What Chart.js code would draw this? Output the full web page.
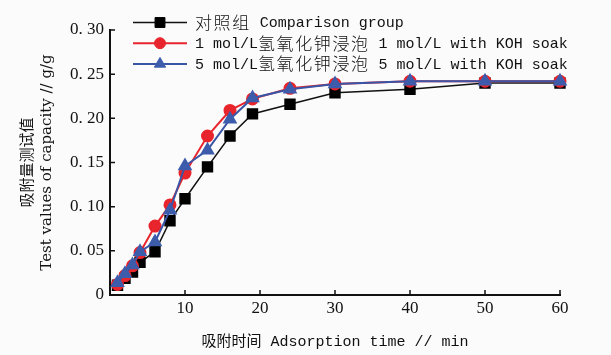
<!DOCTYPE html>
<html>
<head>
<meta charset="utf-8">
<script src="https://cdn.jsdelivr.net/npm/chart.js@4.4.1/dist/chart.umd.min.js"></script>
<style>
  html, body { margin: 0; padding: 0; background: #fbfbfb; }
  #wrap { width: 611px; height: 355px; }
</style>
</head>
<body>
<div id="wrap"><canvas id="chart" width="611" height="355"></canvas></div>
<script>
// adsorption time, min
const times = [1, 2, 3, 4, 6, 8, 10, 13, 16, 19, 24, 30, 40, 50, 60];

// adsorption capacity, g/g
const controlGroup = [0.011, 0.019, 0.026, 0.037, 0.049, 0.084, 0.109, 0.145, 0.180, 0.205, 0.216, 0.229, 0.233, 0.240, 0.240];
const koh1Soak = [0.012, 0.022, 0.033, 0.048, 0.078, 0.102, 0.138, 0.180, 0.209, 0.222, 0.234, 0.239, 0.242, 0.242, 0.242];
const koh5Soak = [0.014, 0.024, 0.034, 0.049, 0.060, 0.096, 0.146, 0.164, 0.199, 0.223, 0.233, 0.239, 0.242, 0.242, 0.242];

const seriesLabels = [
    '对照组 Comparison group',
    '1 mol/L氢氧化钾浸泡 1 mol/L with KOH soak',
    '5 mol/L氢氧化钾浸泡 5 mol/L with KOH soak'
];

const xTicks = [0, 10, 20, 30, 40, 50, 60];
const yTicks = [0, 0.05, 0.10, 0.15, 0.20, 0.25, 0.30];

const toPoints = vals => times.map((t, i) => ({ x: t, y: vals[i] }));

// legend drawn by hand: line + marker + mixed CJK / latin text
const legendBox = {
    id: 'legendBox',
    afterDraw(chart) {
        const ctx = chart.ctx;
        chart.data.datasets.forEach((ds, i) => {
            const y = 22.5 + i * 20.7;
            ctx.save();
            ctx.strokeStyle = ds.borderColor;
            ctx.lineWidth = ds.borderWidth;
            ctx.beginPath();
            ctx.moveTo(133, y);
            ctx.lineTo(187, y);
            ctx.stroke();
            ctx.fillStyle = ds.pointBackgroundColor;
            ctx.strokeStyle = ds.pointBorderColor;
            ctx.lineWidth = 1;
            Chart.helpers.drawPoint(ctx, { pointStyle: ds.pointStyle, radius: ds.pointRadius, rotation: 0, borderWidth: 1 }, 160, y);

            let x = 195;
            ctx.fillStyle = '#111';
            ctx.textBaseline = 'middle';
            ds.label.split(/([\u3400-\u9fff]+)/).forEach(part => {
                if (!part) return;
                if (/[\u3400-\u9fff]/.test(part)) {
                    ctx.font = '300 17px "Noto Sans CJK SC"';
                    for (const ch of part) {
                        ctx.fillText(ch, x, y);
                        x += 18.6;
                    }
                } else {
                    ctx.font = '15px "Liberation Mono"';
                    ctx.fillText(part, x, y + 1);
                    x += ctx.measureText(part).width;
                }
            });
            ctx.restore();
        });
    }
};

// short tick marks pointing into the plot
const innerTicks = {
    id: 'innerTicks',
    afterDraw(chart) {
        const ctx = chart.ctx;
        const xs = chart.scales.x, ys = chart.scales.y;
        ctx.save();
        ctx.strokeStyle = '#111';
        ctx.lineWidth = 1.5;
        ctx.beginPath();
        xTicks.slice(1).forEach(v => {
            const px = xs.getPixelForValue(v);
            ctx.moveTo(px, ys.bottom);
            ctx.lineTo(px, ys.bottom - 5);
        });
        yTicks.slice(1).forEach(v => {
            const py = ys.getPixelForValue(v);
            ctx.moveTo(xs.left, py);
            ctx.lineTo(xs.left + 5, py);
        });
        ctx.stroke();
        ctx.restore();
    }
};

const tickFont = { family: '"Liberation Serif", serif', size: 17 };

new Chart(document.getElementById('chart'), {
    type: 'line',
    data: {
        datasets: [
            {
                label: seriesLabels[0],
                data: toPoints(controlGroup),
                borderColor: '#111',
                borderWidth: 1.5,
                pointStyle: 'rect',
                pointRadius: 7,
                pointBackgroundColor: '#000',
                pointBorderColor: '#000',
                order: 2,
                clip: false
            },
            {
                label: seriesLabels[1],
                data: toPoints(koh1Soak),
                borderColor: '#e8252c',
                borderWidth: 2,
                pointStyle: 'circle',
                pointRadius: 5.5,
                pointBackgroundColor: '#e8252c',
                pointBorderColor: '#e8252c',
                order: 1,
                clip: false
            },
            {
                label: seriesLabels[2],
                data: toPoints(koh5Soak),
                borderColor: '#3a55a6',
                borderWidth: 2,
                pointStyle: 'triangle',
                pointRadius: 6.5,
                pointBackgroundColor: '#3d5cab',
                pointBorderColor: '#3d5cab',
                order: 0,
                clip: false
            }
        ]
    },
    options: {
        responsive: false,
        animation: false,
        layout: { padding: { left: 0, right: 51, top: 30, bottom: 0 } },
        plugins: {
            legend: { display: false },
            tooltip: { enabled: false }
        },
        scales: {
            x: {
                type: 'linear',
                min: 0,
                max: 60,
                afterBuildTicks: s => { s.ticks = xTicks.map(v => ({ value: v })); },
                afterFit: s => { s.height = 60; },
                grid: { drawOnChartArea: false, drawTicks: false },
                border: { display: true, color: '#111', width: 2 },
                ticks: {
                    color: '#111',
                    font: tickFont,
                    padding: 3,
                    maxRotation: 0,
                    callback: v => (v === 0 ? '' : v)
                },
                title: {
                    display: true,
                    text: '吸附时间 Adsorption time // min',
                    color: '#111',
                    font: { family: '"Liberation Mono", "Noto Sans CJK SC"', size: 15 },
                    padding: { top: 0, bottom: 4 }
                }
            },
            y: {
                min: 0,
                max: 0.30,
                afterBuildTicks: s => { s.ticks = yTicks.map(v => ({ value: v })); },
                afterFit: s => { s.width = 110; },
                grid: { drawOnChartArea: false, drawTicks: false },
                border: { display: true, color: '#111', width: 2 },
                ticks: {
                    color: '#111',
                    font: tickFont,
                    padding: 6,
                    callback: v => (v === 0 ? '0' : v.toFixed(2).replace('.', '. '))
                },
                title: {
                    display: true,
                    text: ['吸附量测试值', 'Test values of capacity // g/g'],
                    color: '#111',
                    font: { family: '"DejaVu Serif", "Noto Sans CJK SC"', size: 15, lineHeight: 1.3 },
                    padding: { top: 18, bottom: 0 }
                }
            }
        }
    },
    plugins: [legendBox, innerTicks]
});
</script>
</body>
</html>
